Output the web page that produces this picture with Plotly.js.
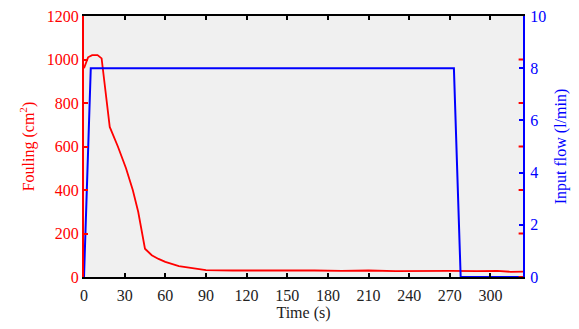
<!DOCTYPE html>
<html><head><meta charset="utf-8">
<script src="https://cdn.plot.ly/plotly-3.0.1.min.js"></script>
<style>html,body{margin:0;padding:0;background:#fff}#c{width:579px;height:329px}</style>
</head><body><div id="c"></div>
<script>
const foulT = [0, 3, 6, 10, 13, 16, 19, 25, 31, 36, 40, 45, 50, 55, 60, 70, 80, 90, 110, 130, 150, 170, 190, 210, 230, 250, 270, 290, 305, 315, 324];
const foulV = [960, 1010, 1020, 1020, 1005, 850, 690, 600, 500, 400, 300, 130, 100, 83, 70, 50, 40, 32, 30, 31, 29, 30, 28, 30, 27, 29, 28, 27, 28, 24, 25];
const flowT = [0, 5, 273, 278, 324];
const flowV = [0, 8, 8, 0, 0];
const xTicks = [0, 30, 60, 90, 120, 150, 180, 210, 240, 270, 300];

const font = "Liberation Serif, Times New Roman, serif";
const data = [
  {x: foulT, y: foulV, type: 'scatter', mode: 'lines', line: {color: '#ff0000', width: 1.8}, yaxis: 'y', hoverinfo: 'skip'},
  {x: flowT, y: flowV, type: 'scatter', mode: 'lines', line: {color: '#0000ff', width: 2}, yaxis: 'y2', hoverinfo: 'skip'}
];
const layout = {
  width: 579, height: 329,
  margin: {l: 84, r: 56, t: 16, b: 52},
  paper_bgcolor: '#ffffff', plot_bgcolor: '#f0f0f0',
  showlegend: false,
  font: {family: font, size: 16},
  xaxis: {
    range: [0, 324], tickvals: xTicks, ticks: 'inside', ticklen: 4, tickwidth: 2, tickcolor: '#000',
    showline: true, linecolor: '#000', linewidth: 2, mirror: 'ticks', showgrid: false, zeroline: false,
    ticklabelstandoff: 3,
    tickfont: {family: font, size: 16, color: '#222'},
    title: {text: 'Time (s)', font: {family: font, size: 16, color: '#222'}, standoff: 3}
  },
  yaxis: {
    range: [0, 1200], tickvals: [0, 200, 400, 600, 800, 1000, 1200], ticks: 'inside', ticklen: 4, tickwidth: 2, tickcolor: '#ff0000',
    showline: true, linecolor: '#ff0000', linewidth: 2, mirror: false, showgrid: false, zeroline: false,
    tickfont: {family: font, size: 16, color: '#ff0000'},
    title: {text: 'Fouling (cm<sup>2</sup>)', font: {family: font, size: 16, color: '#ff0000'}, standoff: 8}
  },
  yaxis2: {
    range: [0, 10], tickvals: [0, 2, 4, 6, 8, 10], overlaying: 'y', side: 'right', ticks: 'inside', ticklen: 4, tickwidth: 2, tickcolor: '#0000ff',
    showline: true, linecolor: '#0000ff', linewidth: 2, showgrid: false, zeroline: false,
    ticklabelstandoff: 2,
    tickfont: {family: font, size: 16, color: '#0000ff'},
    title: {text: 'Input flow (l/min)', font: {family: font, size: 16, color: '#0000ff'}, standoff: 10}
  },
  shapes: [0,200,400,600,800,1000].map(v => ({type: 'line', xref: 'paper', yref: 'y', x0: 0.99, x1: 1, y0: v, y1: v, line: {color: '#ff0000', width: 2}}))
};
Plotly.newPlot('c', data, layout, {staticPlot: true, displayModeBar: false});
</script></body></html>
